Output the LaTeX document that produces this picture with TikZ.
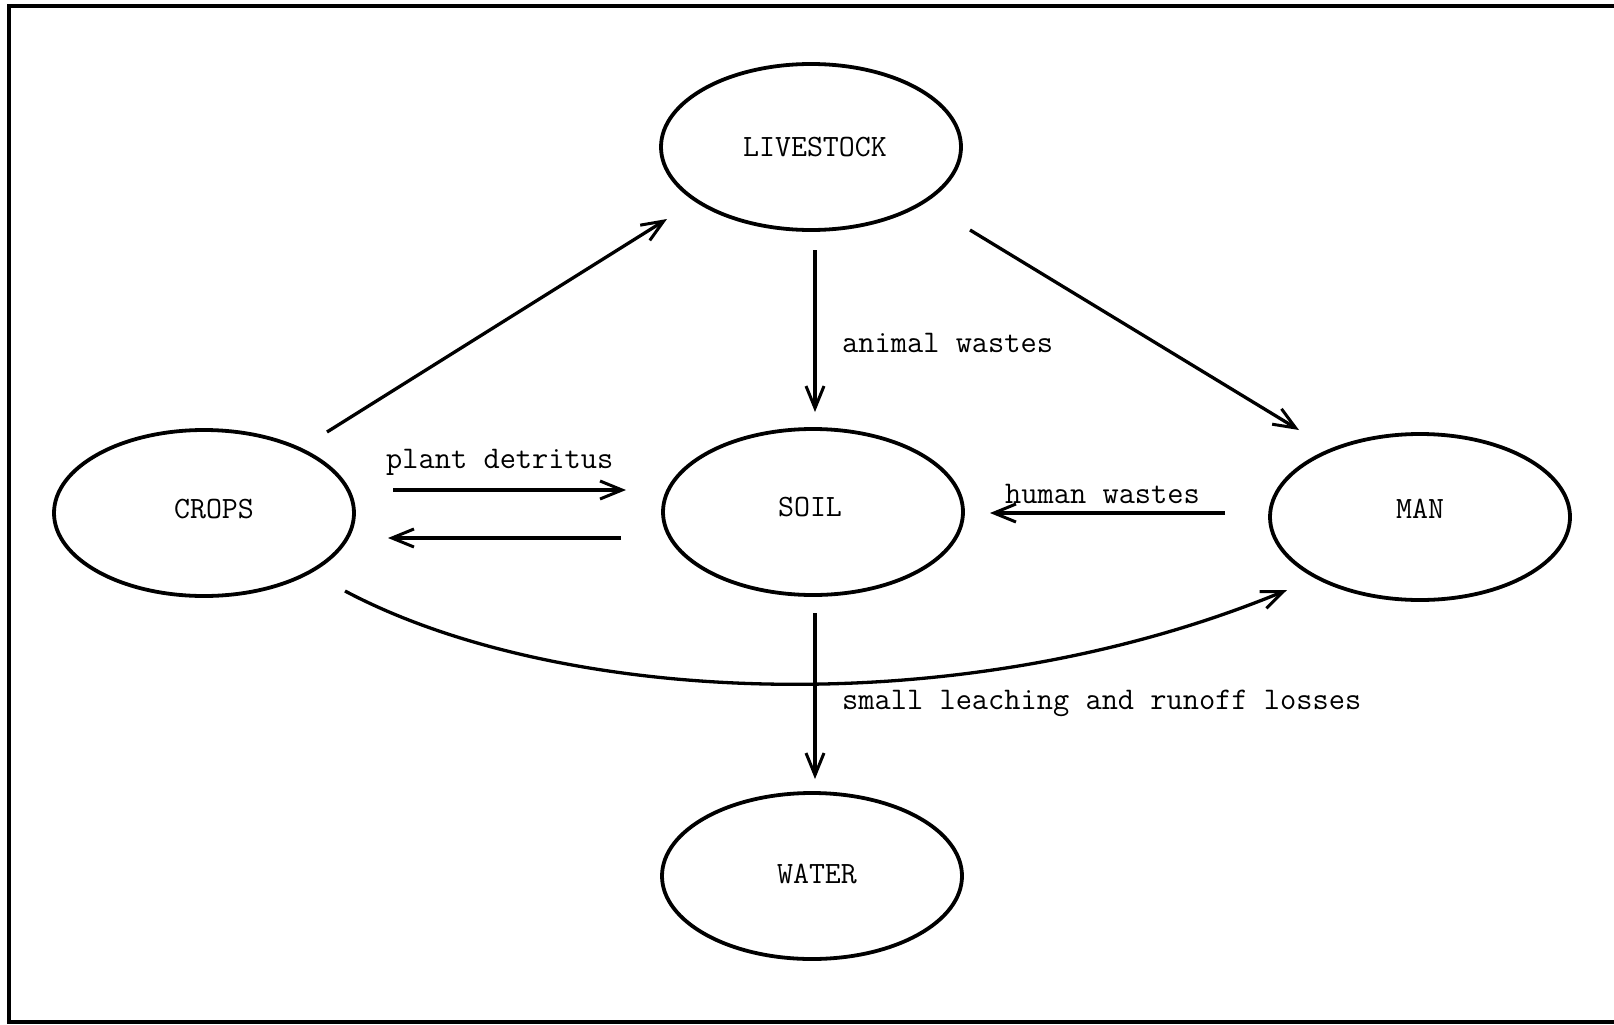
\documentclass[tikz,border=0pt]{standalone}
\usetikzlibrary{arrows.meta,shapes.geometric}
\begin{document}
\begin{tikzpicture}[x=1pt,y=-1pt,
  blob/.style={draw,ellipse,line width=3.8pt,minimum width=300pt,minimum height=166pt,inner sep=0pt},
  nodetxt/.style={font=\fontsize{31}{33}\selectfont\ttfamily,inner sep=0pt},
  flow/.style={line width=3.3pt,-{Straight Barb[length=22pt,width=18pt,line width=3pt]}},
  lab/.style={font=\fontsize{31.5}{33}\selectfont\ttfamily,inner sep=0pt,anchor=base west}]
\useasboundingbox (0,0) rectangle (1614,1025);
\fill[white] (0,0) rectangle (1614,1025);
\draw[line width=4pt] (1614,6) -- (9,6) -- (9,1022) -- (1614,1022);
\node[blob] (live) at (811,147) {};
\node[blob] (soil) at (813,512) {};
\node[blob] (crops) at (204,513) {};
\node[blob] (man) at (1420,517) {};
\node[blob] (water) at (812,876) {};
\node[nodetxt] (tlive) at (815,147) {LIVESTOCK};
\node[nodetxt] (tsoil) at (810,507) {SOIL};
\node[nodetxt] (tcrops) at (214,509) {CROPS};
\node[nodetxt] (tman) at (1420,509) {MAN};
\node[nodetxt] (twater) at (817,874) {WATER};
\coordinate (c1s) at (327,432); \coordinate (c1e) at (667,219);
\coordinate (c2s) at (970,230); \coordinate (c2e) at (1299,430);
\coordinate (c3s) at (815,250); \coordinate (c3e) at (815,412);
\coordinate (c4s) at (393,490); \coordinate (c4e) at (626,490);
\coordinate (c5s) at (621,538); \coordinate (c5e) at (388,538);
\coordinate (c6s) at (1225,513); \coordinate (c6e) at (990,513);
\coordinate (c7s) at (815,613); \coordinate (c7e) at (815,779);
\coordinate (c8s) at (345,591); \coordinate (c8e) at (1287,590);
\draw[flow] (c1s) -- (c1e);
\draw[flow] (c2s) -- (c2e);
\draw[flow] (c3s) -- (c3e);
\draw[flow] (c4s) -- (c4e);
\draw[flow] (c5s) -- (c5e);
\draw[flow] (c6s) -- (c6e);
\draw[flow] (c7s) -- (c7e);
\draw[flow] (c8s) .. controls (560,705) and (960,725) .. (c8e);
\node[lab] (l1) at (842,352) {animal wastes};
\node[lab] (l2) at (386,468) {plant detritus};
\node[lab] (l3) at (1005,503) {human wastes};
\node[lab] (l4) at (842,709) {small leaching and runoff losses};
\end{tikzpicture}
\end{document}
